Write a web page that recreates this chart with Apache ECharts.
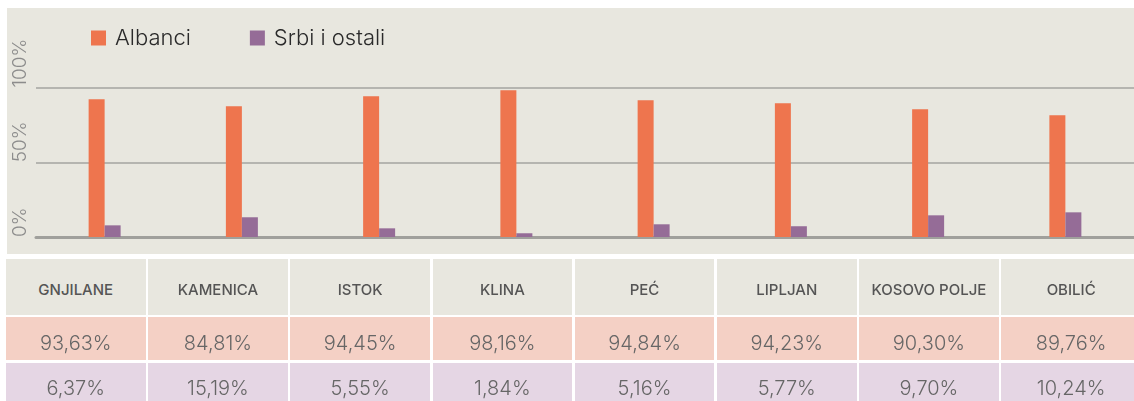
<!DOCTYPE html>
<html>
<head>
<meta charset="utf-8">
<script src="https://cdn.jsdelivr.net/npm/echarts@6/dist/echarts.min.js"></script>
<style>
html,body{margin:0;padding:0;width:1134px;height:401px;overflow:hidden;background:#ffffff;font-family:Inter,"Open Sans",sans-serif;}
#chart{position:absolute;left:7px;top:8px;width:1127px;height:246px;background:#e8e7df;}
#table{position:absolute;left:0;top:0;width:1134px;height:401px;}
.cell{position:absolute;text-align:center;overflow:hidden;white-space:nowrap;}
.hdr{background:#e8e7df;color:#555555;font-size:15px;font-weight:500;}
.alb{background:#f4d0c5;color:#666666;font-size:20px;font-weight:300;}
.srb{background:#e5d6e4;color:#666666;font-size:20px;font-weight:300;}
</style>
</head>
<body>
<div id="chart"></div>
<div id="table"></div>
<script>
// ---- data ----
const categories = ['GNJILANE', 'KAMENICA', 'ISTOK', 'KLINA', 'PEĆ', 'LIPLJAN', 'KOSOVO POLJE', 'OBILIĆ'];
const seriesNames = ['Albanci', 'Srbi i ostali'];
const albanci = [92.1, 87.4, 94.1, 98.1, 91.4, 89.4, 85.4, 81.4];
const srbi = [7.8, 13.2, 5.8, 2.5, 8.5, 7.2, 14.5, 16.5];
const albanciTable = ['93,63%', '84,81%', '94,45%', '98,16%', '94,84%', '94,23%', '90,30%', '89,76%'];
const srbiTable = ['6,37%', '15,19%', '5,55%', '1,84%', '5,16%', '5,77%', '9,70%', '10,24%'];
const yMin = 0, yMax = 100, yStep = 50;

// ---- chart ----
const chart = echarts.init(document.getElementById('chart'), null, {renderer: 'canvas'});
chart.setOption({
  backgroundColor: 'transparent',
  animation: false,
  textStyle: {fontFamily: 'Inter'},
  legend: {
    data: seriesNames,
    left: 79, top: 14,
    itemWidth: 15, itemHeight: 15, itemGap: 59,
    icon: 'rect',
    textStyle: {fontSize: 22, color: '#2a2a2a', fontFamily: 'Inter', fontWeight: 300, padding: [0, 0, 0, 4]}
  },
  grid: {left: 29, right: 0, top: 79.5, height: 149.5, containLabel: false, outerBoundsMode: 'none'},
  xAxis: {
    type: 'category',
    data: categories,
    axisLabel: {show: false},
    axisTick: {show: false},
    axisLine: {show: true, lineStyle: {color: '#a0a09c', width: 3}},
    z: 1
  },
  yAxis: {
    type: 'value',
    min: yMin, max: yMax, interval: yStep,
    axisLine: {show: false},
    axisTick: {show: false},
    splitLine: {show: true, lineStyle: {color: '#a5a5a1', width: 1.5}},
    axisLabel: {
      formatter: v => v + '%',
      rotate: 90,
      align: 'left',
      verticalAlign: 'middle',
      margin: 16,
      color: '#8c8c8c',
      fontSize: 19,
      fontWeight: 300,
      fontFamily: 'Inter'
    }
  },
  series: [
    {name: seriesNames[0], type: 'bar', data: albanci, barWidth: 16, barGap: '0%', itemStyle: {color: '#ee754e'}, z: 3},
    {name: seriesNames[1], type: 'bar', data: srbi, barWidth: 16, itemStyle: {color: '#956c97'}, z: 3}
  ]
});

// ---- table ----
const table = document.getElementById('table');
const colX0 = 6, colPitch = 142.2, colW = 139.5;
const rows = [
  {cls: 'hdr', top: 259, h: 56, lh: 62, vals: categories},
  {cls: 'alb', top: 317.3, h: 42.7, lh: 52, vals: albanciTable},
  {cls: 'srb', top: 362.7, h: 45, lh: 51, vals: srbiTable}
];
rows.forEach(r => {
  r.vals.forEach((v, i) => {
    const d = document.createElement('div');
    d.className = 'cell ' + r.cls;
    d.style.left = (colX0 + colPitch * i) + 'px';
    d.style.width = colW + 'px';
    d.style.top = r.top + 'px';
    d.style.height = r.h + 'px';
    d.style.lineHeight = r.lh + 'px';
    d.textContent = v;
    table.appendChild(d);
  });
});
</script>
</body>
</html>
